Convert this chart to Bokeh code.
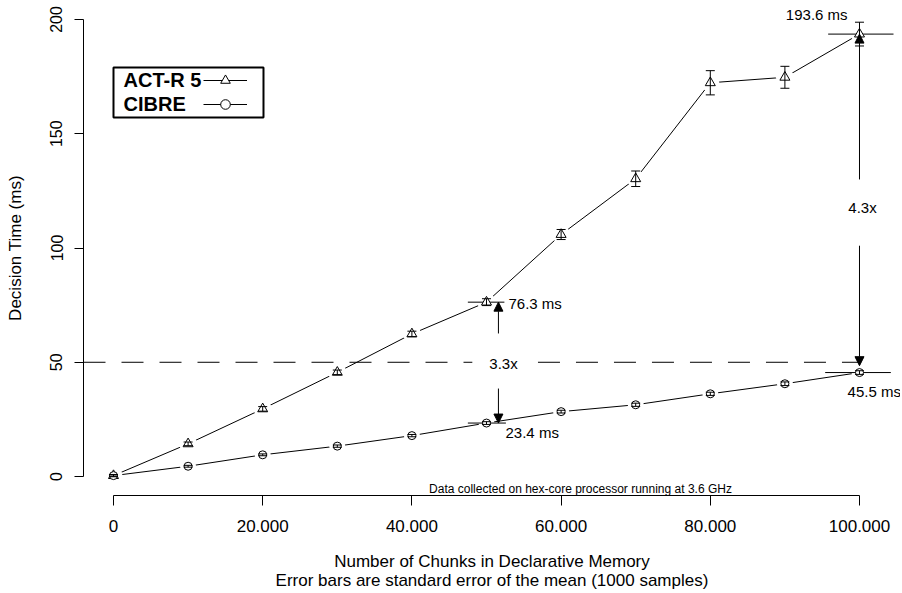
from bokeh.plotting import figure
from bokeh.models import (ColumnDataSource, Whisker, TeeHead, Arrow, NormalHead, Label,
                          BoxAnnotation, Legend, LegendItem, FixedTicker, Range1d)
from bokeh.embed import file_html
from bokeh.resources import INLINE

# ---------------- data ----------------
chunks = [0, 10000, 20000, 30000, 40000, 50000, 60000, 70000, 80000, 90000, 100000]
actr_ms = [0.4, 14.3, 29.6, 45.6, 62.4, 76.3, 105.9, 130.3, 172.3, 174.7, 193.6]
actr_se = [0.5, 0.8, 1.0, 1.0, 1.2, 1.5, 2.2, 3.4, 5.3, 4.8, 5.2]
cibre_ms = [0.4, 4.5, 9.5, 13.3, 17.9, 23.4, 28.4, 31.4, 36.2, 40.6, 45.5]
cibre_se = [0.3, 0.4, 0.4, 0.5, 0.5, 0.6, 0.6, 0.7, 0.7, 0.8, 0.8]
series_names = ["ACT-R 5", "CIBRE"]

x_ticks = [0, 20000, 40000, 60000, 80000, 100000]
x_tick_labels = ["0", "20.000", "40.000", "60.000", "80.000", "100.000"]
y_ticks = [0, 50, 100, 150, 200]

# comparison annotations
mid_x, mid_hi, mid_lo = 50000, 76.3, 23.4
end_x, end_hi, end_lo = 100000, 193.6, 45.5
ratio_labels = ["3.3x", "4.3x"]
ref_level = 50
note_text = "Data collected on hex-core processor running at 3.6 GHz"
x_title = "Number of Chunks in Declarative Memory\nError bars are standard error of the mean (1000 samples)"
y_title = "Decision Time (ms)"

FONT = "Liberation Sans"
X0, X1 = -4021, 105496
Y0, Y1 = -8.3, 208.3
LINE_END = 104558

p = figure(width=900, height=593, output_backend="svg", toolbar_location=None,
           x_range=Range1d(X0, X1), y_range=Range1d(Y0, Y1),
           min_border_left=83, min_border_right=0, min_border_top=0, min_border_bottom=98)
p.outline_line_color = None
p.grid.visible = False

# axes
xa = p.xaxis[0]
xa.ticker = FixedTicker(ticks=x_ticks)
xa.major_label_overrides = {t: l for t, l in zip(x_ticks, x_tick_labels)}
xa.bounds = (x_ticks[0], x_ticks[-1])
xa.axis_label = x_title
ya = p.yaxis[0]
ya.ticker = FixedTicker(ticks=y_ticks)
ya.bounds = (y_ticks[0], y_ticks[-1])
ya.axis_label = y_title
ya.major_label_orientation = "vertical"
for ax in (xa, ya):
    ax.minor_tick_line_color = None
    ax.major_tick_in = 0
    ax.axis_line_color = "black"
    ax.major_tick_line_color = "black"
    ax.major_label_text_font = FONT
    ax.major_label_text_color = "black"
    ax.axis_label_text_font = FONT
    ax.axis_label_text_font_style = "normal"
    ax.axis_label_text_color = "black"
    ax.axis_label_text_font_size = "17px"
xa.major_tick_out = 10
xa.major_label_text_font_size = "17px"
xa.major_label_standoff = 14
xa.axis_label_standoff = 17
xa.axis_label_text_line_height = 1.0
ya.major_tick_out = 9
ya.major_label_text_font_size = "16px"
ya.major_label_standoff = 12
ya.axis_label_standoff = 23

# series lines
l_actr = p.line(chunks, actr_ms, line_color="black", line_width=1)
l_cib = p.line(chunks, cibre_ms, line_color="black", line_width=1)
# gaps around points (type="b")
p.scatter(chunks, actr_ms, marker="circle", size=18, fill_color="white", line_color=None)
p.scatter(chunks, cibre_ms, marker="circle", size=16, fill_color="white", line_color=None)

# reference dashed line at 50 ms, interrupted by ratio label
p.segment(x0=[X0, 56900], y0=[ref_level, ref_level], x1=[48100, end_x], y1=[ref_level, ref_level],
          line_color="black", line_width=1, line_dash="22 16")

# horizontal marker lines at compared values
p.segment(x0=[47500, 47500, 95800, 95400], y0=[mid_hi, mid_lo, end_hi, end_lo],
          x1=[52400, 52600, LINE_END, 104200], y1=[mid_hi, mid_lo, end_hi, end_lo],
          line_color="black", line_width=1)

# markers
m_actr = p.scatter(chunks, actr_ms, marker="triangle", size=10, fill_color="white",
                   line_color="black", line_width=1)
m_cib = p.scatter(chunks, cibre_ms, marker="circle", size=8, fill_color="white",
                  line_color="black", line_width=1)

# error bars
for ms, se in ((actr_ms, actr_se), (cibre_ms, cibre_se)):
    src = ColumnDataSource(dict(x=chunks,
                                upper=[m + s for m, s in zip(ms, se)],
                                lower=[m - s for m, s in zip(ms, se)]))
    p.add_layout(Whisker(source=src, base="x", upper="upper", lower="lower", level="overlay",
                         line_color="black", line_width=1,
                         upper_head=TeeHead(size=9, line_color="black", line_width=1),
                         lower_head=TeeHead(size=9, line_color="black", line_width=1)))

# arrows
def arrow(x, y_from, y_to):
    p.add_layout(Arrow(end=NormalHead(size=9, fill_color="black", line_color="black", line_width=1),
                       x_start=x, y_start=y_from, x_end=x, y_end=y_to,
                       line_color="black", line_width=1))

arrow_x_mid = 51600
arrow(arrow_x_mid, 62.6, mid_hi)
arrow(arrow_x_mid, 38.5, mid_lo)
arrow(end_x, 130, end_hi)
arrow(end_x, 101, 48.5)

# text annotations
def label(x, y, text, align="left", size="15px", style="normal"):
    p.add_layout(Label(x=x, y=y, text=text, text_font=FONT, text_font_size=size,
                       text_font_style=style, text_color="black",
                       text_align=align, text_baseline="middle"))

label(52950, 75.5, f"{mid_hi} ms")
label(52550, 19.3, f"{mid_lo} ms")
label(98400, 202.2, f"{end_hi} ms", align="right")
label(98400, 37.2, f"{end_lo} ms")
label(52280, 49.3, ratio_labels[0], align="center")
label(100400, 117.7, ratio_labels[1], align="center")
label(62600, -5.3, note_text, align="center", size="12px")

# legend (labels left of keys, as in the original)
p.add_layout(BoxAnnotation(left=0, right=20107, top=179.0, bottom=157.1,
                           fill_alpha=0, line_color="black", line_alpha=1, line_width=2))
label(1340, 173.3, series_names[0], size="20px", style="bold")
label(1340, 162.8, series_names[1], size="20px", style="bold")
legend = Legend(items=[LegendItem(label=" ", renderers=[l_actr, m_actr]),
                       LegendItem(label=" ", renderers=[l_cib, m_cib])],
                location=(120, 379), glyph_width=44, glyph_height=24, label_height=24,
                label_width=0, label_standoff=0, label_text_font_size="1px",
                spacing=0, padding=0, margin=0, border_line_color=None,
                background_fill_alpha=0)
p.add_layout(legend)

open("out.html", "w").write(file_html(p, INLINE))
